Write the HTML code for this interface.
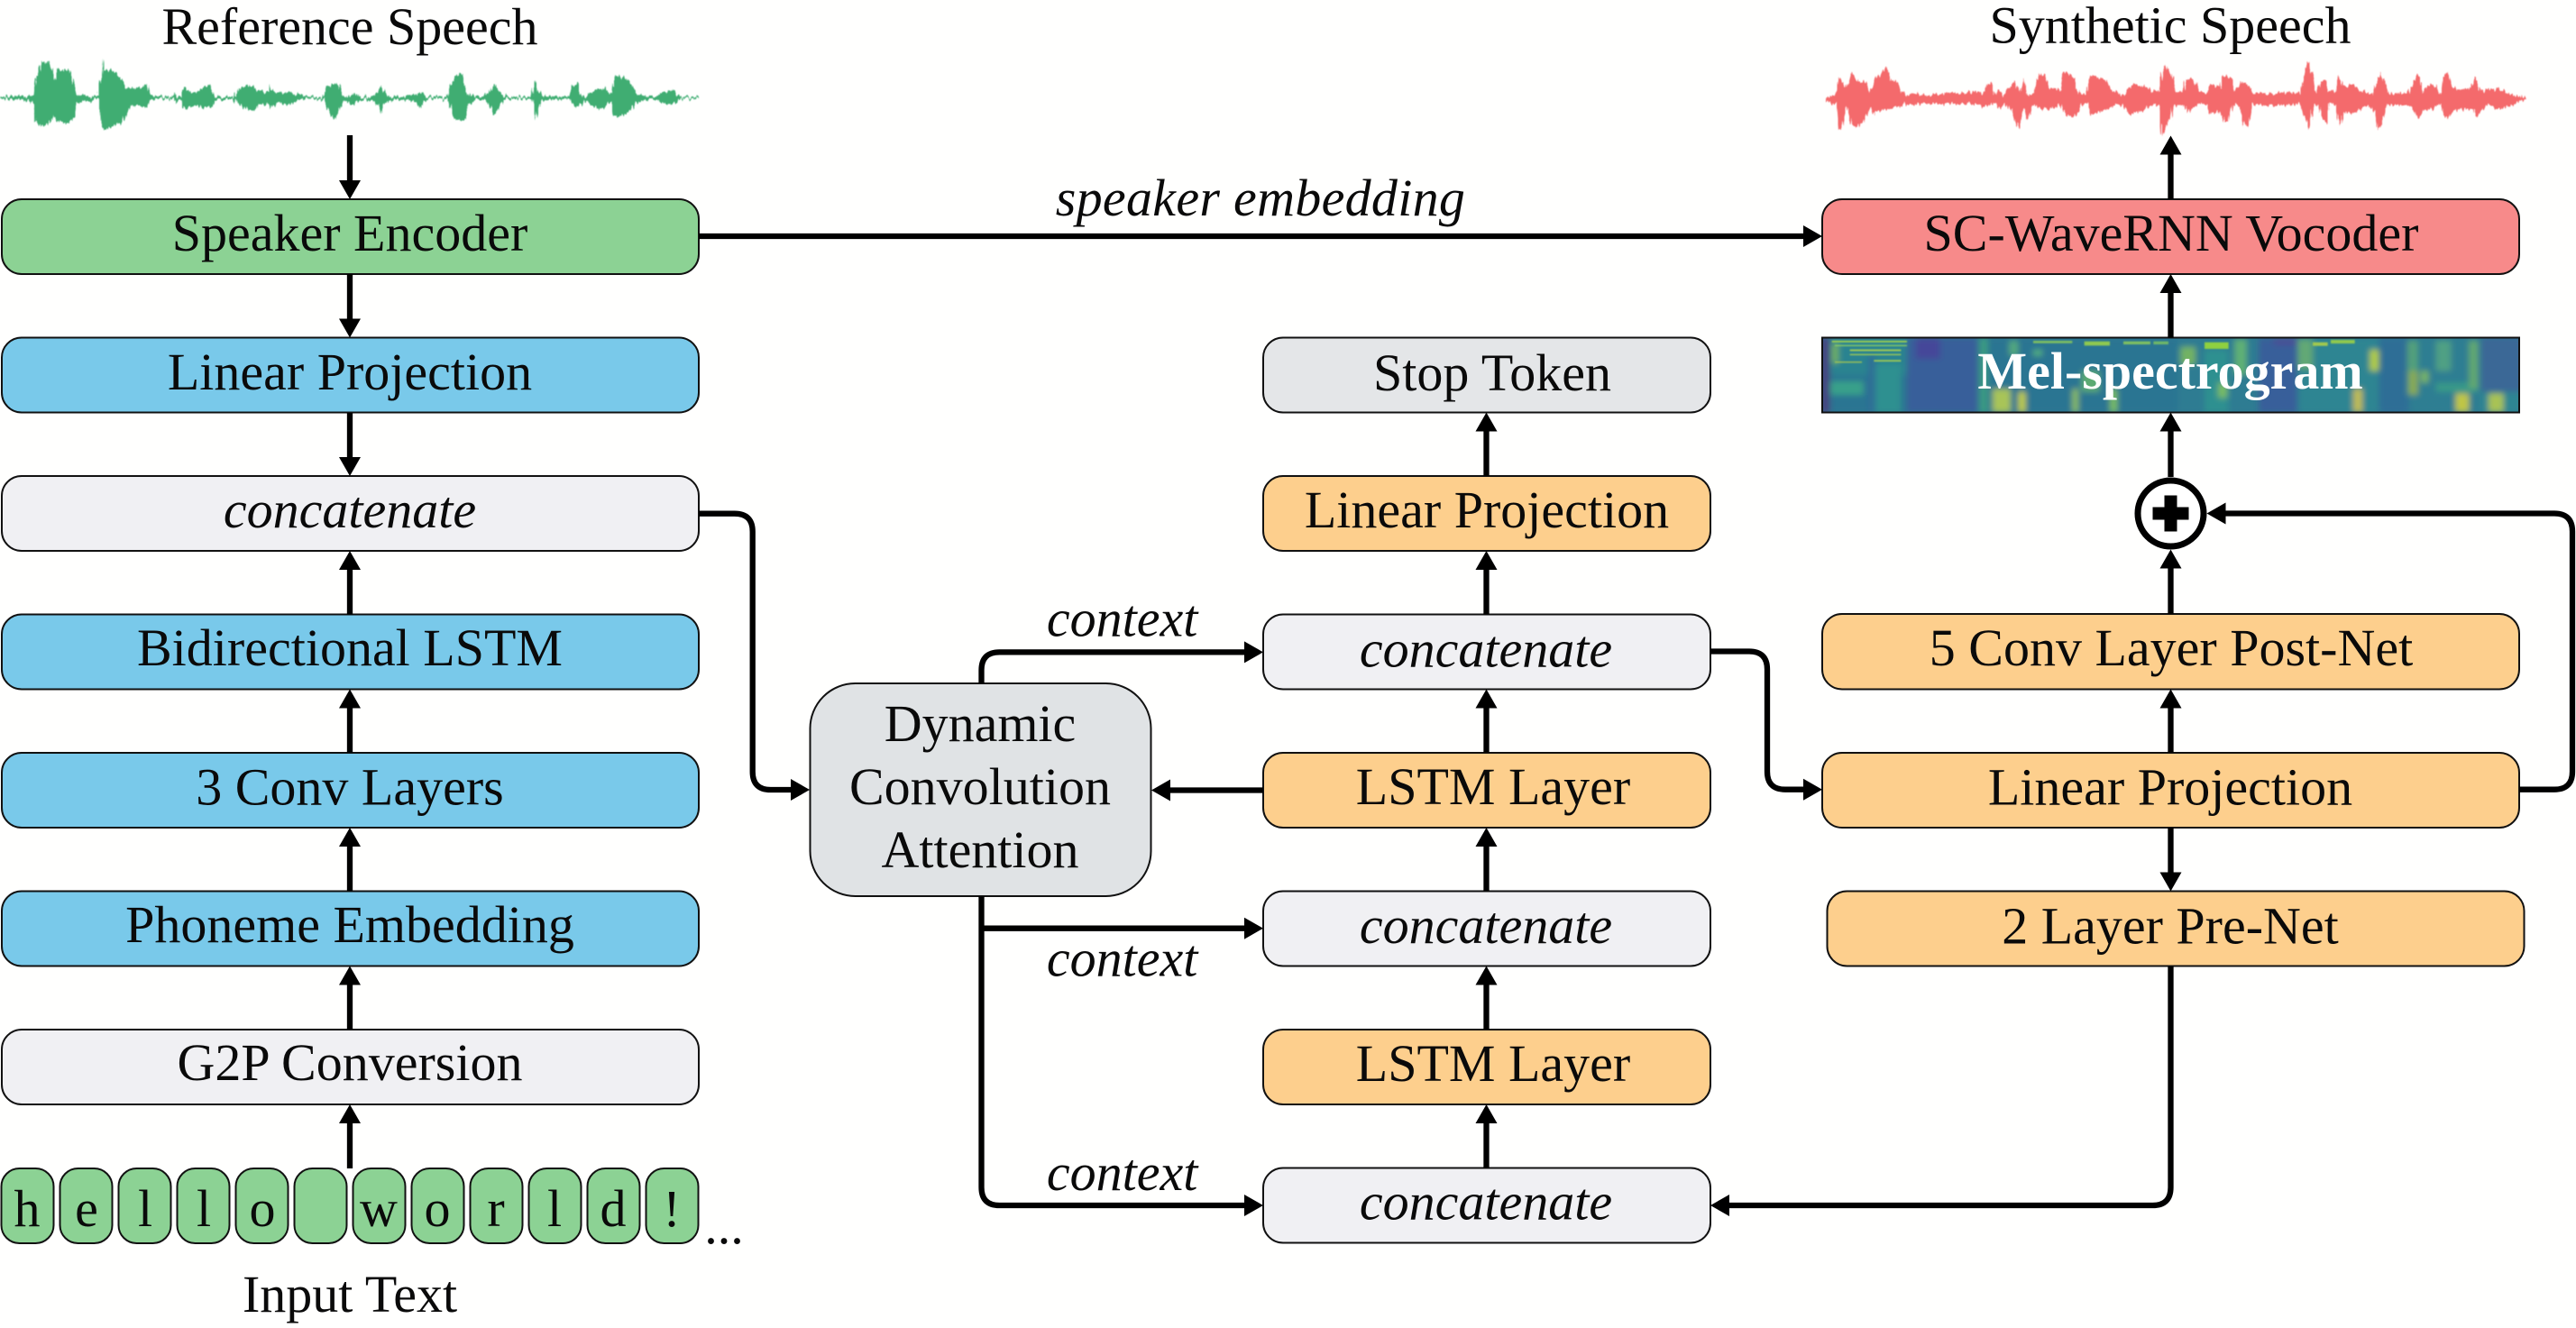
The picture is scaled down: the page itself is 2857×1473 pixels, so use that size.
<!DOCTYPE html>
<html><head><meta charset="utf-8"><style>
html,body{margin:0;padding:0;background:#fffffe;width:2857px;height:1473px;overflow:hidden}
svg{display:block}
text{font-family:"Liberation Serif","Times New Roman",serif;font-size:58px;fill:#0a0a0a;text-anchor:middle}
.i{font-style:italic}
.b{stroke:#111;stroke-width:2}
.l{fill:none;stroke:#000;stroke-width:6.3}
.a{fill:#000}
</style></head><body>
<svg width="2857" height="1473" viewBox="0 0 2857 1473" xmlns="http://www.w3.org/2000/svg">
<defs>
<filter id="bs" x="-2%" y="-8%" width="104%" height="116%"><feGaussianBlur stdDeviation="3.2"/></filter>
<filter id="ls" x="-2%" y="-8%" width="104%" height="116%"><feGaussianBlur stdDeviation="0.7"/></filter>
<filter id="ws" x="-1%" y="-15%" width="102%" height="130%">
<feTurbulence type="fractalNoise" baseFrequency="0.45 0.015" numOctaves="2" seed="4" result="n"/>
<feDisplacementMap in="SourceGraphic" in2="n" scale="9" xChannelSelector="A" yChannelSelector="R"/>
<feGaussianBlur stdDeviation="0.6"/>
</filter>
<clipPath id="mc"><rect x="2021" y="374.5" width="773" height="83"/></clipPath>
</defs>

<!-- waveforms -->
<g filter="url(#ws)">
<g transform="translate(0,55) scale(.33333)" fill="#3fad72">
<polygon points="0,159 30,156 100,154 108,150 114,95 125,85 135,42 142,36 150,45 160,38 170,60 180,100 187,105 190,65 205,68 218,70 230,65 240,90 250,130 258,148 300,155 325,158 332,100 340,95 345,32 350,70 360,68 385,78 410,110 420,130 440,128 470,128 487,113 498,150 520,156 575,158 580,148 590,155 600,158 603,140 618,125 630,140 655,140 680,125 697,120 712,155 780,158 790,128 825,118 845,125 860,138 890,140 897,112 905,130 925,145 945,145 965,140 985,148 1020,157 1075,158 1085,125 1100,118 1125,115 1135,150 1150,158 1165,150 1185,145 1200,160 1200,168 1185,178 1165,182 1150,168 1135,175 1125,210 1115,235 1100,215 1085,190 1075,165 1020,164 985,172 965,182 945,182 925,178 905,190 897,195 890,180 860,185 850,205 825,200 790,180 780,165 712,165 705,190 680,195 655,185 630,190 618,200 603,190 600,165 590,170 582,182 575,165 520,164 498,170 490,195 470,188 440,185 420,215 410,240 385,250 370,258 345,265 335,235 332,175 325,165 300,170 258,175 248,225 230,240 218,250 205,240 188,235 178,220 160,250 145,255 130,248 118,240 112,180 105,175 100,168 30,166 0,164"/>
</g>
<g transform="translate(390,55) scale(.33333)" fill="#3fad72">
<polygon points="0,150 8,140 20,155 45,158 70,155 90,135 97,118 105,140 125,158 170,156 215,150 228,138 240,150 250,158 315,158 328,115 345,95 362,75 372,105 390,150 410,158 440,155 460,140 475,112 490,140 510,158 595,158 608,100 620,135 640,155 725,158 738,125 750,112 760,140 775,158 800,140 840,125 860,150 868,148 872,95 885,88 910,98 935,125 945,148 985,155 1010,158 1030,145 1060,135 1080,148 1100,158 1157,158 1157,164 1100,164 1080,175 1060,185 1030,178 1010,165 985,165 945,178 925,205 890,225 870,220 865,175 840,190 820,200 795,178 775,168 760,185 745,195 730,170 725,165 640,168 625,175 612,235 600,175 595,165 510,165 490,190 478,218 460,190 445,168 410,165 390,185 378,235 360,235 340,232 325,185 315,165 250,165 238,175 228,192 215,175 170,165 125,170 108,185 98,212 90,190 70,170 45,165 20,165 8,188 0,172"/>
</g>
<g transform="translate(2015,60) scale(.33333)" fill="#f46b6c">
<polygon points="32,145 50,140 65,130 72,80 85,90 95,120 105,100 118,62 135,85 165,100 180,122 190,105 195,80 215,60 232,40 245,85 265,90 285,120 300,135 320,130 360,140 420,130 500,128 555,128 565,95 582,100 590,135 605,115 625,140 650,95 665,90 675,125 690,82 700,140 720,130 742,68 760,70 770,110 790,115 812,120 820,62 835,62 858,85 868,125 890,135 908,70 930,75 960,88 985,125 1000,125 1020,135 1050,100 1085,105 1115,125 1140,125 1148,65 1160,38 1180,70 1190,125 1200,125 1200,170 1180,180 1165,240 1148,270 1142,175 1120,170 1100,180 1065,195 1040,200 1020,170 1000,165 980,180 940,192 912,202 900,165 890,160 860,205 850,210 830,205 812,170 790,180 760,185 740,180 718,170 700,220 690,180 672,250 660,220 640,180 625,165 610,185 595,160 585,165 560,175 500,165 420,165 360,165 320,170 300,165 270,175 195,190 195,212 180,180 160,215 135,245 115,235 100,175 82,250 72,250 65,165 50,165 32,155"/>
</g>
<g transform="translate(2405,60) scale(.33333)" fill="#f46b6c">
<polygon points="0,65 12,110 20,128 50,125 58,85 85,80 100,125 130,130 138,105 175,108 182,72 205,80 218,125 235,105 250,90 270,105 285,130 350,130 400,125 440,130 455,60 465,25 480,70 488,125 505,90 525,85 535,125 560,125 565,72 580,105 620,105 640,125 680,130 692,95 710,55 722,100 735,130 800,128 825,75 835,70 845,130 860,105 880,100 905,135 912,75 930,60 940,105 970,120 1000,115 1020,75 1040,125 1090,115 1120,125 1170,140 1185,148 1185,152 1150,165 1100,185 1060,170 1040,190 1025,212 1012,180 985,185 950,185 930,215 915,200 905,165 880,185 850,185 830,215 815,180 790,168 730,168 720,200 708,240 695,255 685,190 665,168 640,185 610,200 585,190 570,240 558,170 535,165 525,230 510,210 495,165 485,170 468,245 450,205 440,165 380,170 300,170 280,165 265,250 250,225 235,170 210,170 200,225 185,225 170,190 140,200 130,170 100,165 62,195 52,170 15,170 8,215 0,220"/>
</g>
</g>

<!-- labels top -->
<text x="388" y="49">Reference Speech</text>
<text x="2407" y="47.5">Synthetic Speech</text>
<text x="1398" y="239" class="i" style="letter-spacing:.3px">speaker embedding</text>

<!-- left column -->
<rect class="b" x="2" y="221" width="773" height="83" rx="22" fill="#8cd294"/>
<rect class="b" x="2" y="374.5" width="773" height="83" rx="22" fill="#79c9ea"/>
<rect class="b" x="2" y="528" width="773" height="83" rx="22" fill="#f0f0f3"/>
<rect class="b" x="2" y="681.5" width="773" height="83" rx="22" fill="#79c9ea"/>
<rect class="b" x="2" y="835" width="773" height="83" rx="22" fill="#79c9ea"/>
<rect class="b" x="2" y="988.5" width="773" height="83" rx="22" fill="#79c9ea"/>
<rect class="b" x="2" y="1142" width="773" height="83" rx="22" fill="#f0f0f3"/>
<text x="388" y="278">Speaker Encoder</text>
<text x="388" y="432">Linear Projection</text>
<text x="388" y="585" class="i">concatenate</text>
<text x="388" y="738">Bidirectional LSTM</text>
<text x="388" y="892.5">3 Conv Layers</text>
<text x="388" y="1045">Phoneme Embedding</text>
<text x="388" y="1198">G2P Conversion</text>

<!-- hello world cells -->
<g fill="#8cd294">
<rect class="b" x="1.5" y="1296" width="58" height="83" rx="20"/>
<rect class="b" x="66.5" y="1296" width="58" height="83" rx="20"/>
<rect class="b" x="131.5" y="1296" width="58" height="83" rx="20"/>
<rect class="b" x="196.5" y="1296" width="58" height="83" rx="20"/>
<rect class="b" x="261.5" y="1296" width="58" height="83" rx="20"/>
<rect class="b" x="326.5" y="1296" width="58" height="83" rx="20"/>
<rect class="b" x="391.5" y="1296" width="58" height="83" rx="20"/>
<rect class="b" x="456.5" y="1296" width="58" height="83" rx="20"/>
<rect class="b" x="521.5" y="1296" width="58" height="83" rx="20"/>
<rect class="b" x="586.5" y="1296" width="58" height="83" rx="20"/>
<rect class="b" x="651.5" y="1296" width="58" height="83" rx="20"/>
<rect class="b" x="716.5" y="1296" width="58" height="83" rx="20"/>
</g>
<text x="30" y="1360">h</text><text x="96" y="1360">e</text><text x="161" y="1360">l</text><text x="226" y="1360">l</text><text x="291" y="1360">o</text>
<text x="420" y="1360">w</text><text x="485" y="1360">o</text><text x="550" y="1360">r</text><text x="615" y="1360">l</text><text x="680" y="1360">d</text><text x="745" y="1360">!</text>
<text x="803" y="1379">...</text>
<text x="388" y="1455">Input Text</text>

<!-- attention -->
<rect class="b" x="898.5" y="758" width="378" height="236" rx="50" fill="#e0e3e5"/>
<text x="1087" y="822">Dynamic</text>
<text x="1087" y="892">Convolution</text>
<text x="1087" y="962">Attention</text>
<text x="1244.6" y="705.5" class="i">context</text>
<text x="1244.6" y="1082.5" class="i">context</text>
<text x="1244.6" y="1320" class="i">context</text>

<!-- centre column -->
<rect class="b" x="1401" y="374.5" width="496" height="83" rx="22" fill="#e4e6e8"/>
<rect class="b" x="1401" y="528" width="496" height="83" rx="22" fill="#fdcf8d"/>
<rect class="b" x="1401" y="681.5" width="496" height="83" rx="22" fill="#f0f0f3"/>
<rect class="b" x="1401" y="835" width="496" height="83" rx="22" fill="#fdcf8d"/>
<rect class="b" x="1401" y="988.5" width="496" height="83" rx="22" fill="#f0f0f3"/>
<rect class="b" x="1401" y="1142" width="496" height="83" rx="22" fill="#fdcf8d"/>
<rect class="b" x="1401" y="1295.5" width="496" height="83" rx="22" fill="#f0f0f3"/>
<text x="1655" y="433">Stop Token</text>
<text x="1649" y="585">Linear Projection</text>
<text x="1648" y="739.5" class="i">concatenate</text>
<text x="1656" y="892">LSTM Layer</text>
<text x="1648" y="1046" class="i">concatenate</text>
<text x="1656" y="1199">LSTM Layer</text>
<text x="1648" y="1352.5" class="i">concatenate</text>

<!-- right column -->
<rect class="b" x="2021" y="221" width="773" height="83" rx="22" fill="#f78a8a"/>
<g clip-path="url(#mc)"><rect x="2021" y="374.5" width="773" height="83" fill="#2f7a92"/>
<g filter="url(#bs)">
<g transform="translate(2015,368) scale(.33333)">
<rect x="15" y="20" width="1185" height="250" fill="#2b7592"/>
<rect x="45" y="20" width="255" height="125" fill="#2c8390"/>
<rect x="45" y="165" width="110" height="45" fill="#37a08a"/>
<rect x="190" y="110" width="90" height="160" fill="#2d9090"/>
<rect x="170" y="80" width="25" height="190" fill="#2d6e96"/>
<rect x="300" y="20" width="235" height="250" fill="#395f9a"/>
<rect x="330" y="20" width="80" height="70" fill="#444799"/>
<rect x="15" y="20" width="28" height="250" fill="#46417f"/>
<rect x="50" y="40" width="22" height="65" fill="#6fb060"/>
<rect x="540" y="20" width="30" height="250" fill="#3a9a82"/>
<rect x="585" y="190" width="60" height="78" fill="#a8c458"/>
<rect x="670" y="200" width="25" height="68" fill="#c0cc44"/>
<rect x="640" y="30" width="30" height="50" fill="#52a87e"/>
<rect x="720" y="60" width="30" height="20" fill="#52b07e"/>
<rect x="850" y="190" width="20" height="78" fill="#88bc62"/>
<rect x="975" y="190" width="25" height="78" fill="#78bc62"/>
<rect x="880" y="130" width="60" height="70" fill="#5caa72"/>
</g>
<g transform="translate(2405,368) scale(.33333)">
<rect x="30" y="20" width="270" height="250" fill="#2d7c92"/>
<rect x="300" y="20" width="130" height="250" fill="#395f9a"/>
<rect x="350" y="20" width="90" height="25" fill="#4a4f96"/>
<rect x="40" y="50" width="50" height="60" fill="#72b264"/>
<rect x="120" y="60" width="80" height="210" fill="#2e9090"/>
<rect x="220" y="25" width="40" height="120" fill="#5fb074"/>
<rect x="165" y="170" width="30" height="50" fill="#78bc64"/>
<rect x="430" y="20" width="270" height="250" fill="#2d8592"/>
<rect x="430" y="25" width="50" height="100" fill="#62a874"/>
<rect x="615" y="190" width="30" height="78" fill="#c0bc52"/>
<rect x="670" y="60" width="40" height="70" fill="#b0cc44"/>
<rect x="700" y="20" width="100" height="250" fill="#2e6e96"/>
<rect x="800" y="20" width="240" height="250" fill="#2d7e92"/>
<rect x="795" y="30" width="35" height="180" fill="#52a07a"/>
<rect x="800" y="130" width="30" height="80" fill="#88aa54"/>
<rect x="840" y="130" width="25" height="40" fill="#78b464"/>
<rect x="890" y="30" width="50" height="100" fill="#50a084"/>
<rect x="890" y="170" width="140" height="30" fill="#389a88"/>
<rect x="1000" y="30" width="30" height="160" fill="#62a870"/>
<rect x="1040" y="20" width="135" height="180" fill="#3a6896"/>
<rect x="1040" y="200" width="135" height="70" fill="#2d8592"/>
<rect x="955" y="205" width="45" height="62" fill="#c0c644"/>
<rect x="1065" y="205" width="50" height="62" fill="#a8c254"/>
</g>
</g>
<g filter="url(#ls)">
<g transform="translate(2015,368) scale(.33333)">
<rect x="50" y="30" width="250" height="5" fill="#a8d84a"/>
<rect x="60" y="44" width="240" height="4" fill="#8fd060"/>
<rect x="110" y="59" width="170" height="5" fill="#b8d848"/>
<rect x="110" y="74" width="170" height="4" fill="#a8d050"/>
<rect x="190" y="94" width="90" height="5" fill="#a8d050"/>
<rect x="60" y="99" width="90" height="4" fill="#a8c850"/>
<rect x="720" y="30" width="130" height="8" fill="#7fc060"/>
<rect x="890" y="32" width="85" height="14" fill="#8ec850"/>
<rect x="1020" y="32" width="90" height="10" fill="#7fc060"/>
<rect x="1120" y="32" width="50" height="10" fill="#6fb868"/>
</g>
<g transform="translate(2405,368) scale(.33333)">
<rect x="120" y="35" width="80" height="22" fill="#8fd040"/>
<rect x="480" y="35" width="50" height="12" fill="#a0c850"/>
<rect x="540" y="27" width="80" height="12" fill="#90c850"/>
</g>
</g>
</g>
<rect x="2021" y="374.5" width="773" height="83" fill="none" stroke="#111" stroke-width="2"/>
<text x="2407" y="431" style="fill:#fff;font-weight:bold">Mel-spectrogram</text>
<rect class="b" x="2021" y="681" width="773" height="83.5" rx="22" fill="#fdcf8d"/>
<rect class="b" x="2021" y="835" width="773" height="83" rx="22" fill="#fdcf8d"/>
<rect class="b" x="2026.5" y="988.5" width="773" height="83" rx="22" fill="#fdcf8d"/>
<text x="2408" y="278">SC-WaveRNN Vocoder</text>
<text x="2408" y="738">5 Conv Layer Post-Net</text>
<text x="2407" y="892.5">Linear Projection</text>
<text x="2407" y="1046.5">2 Layer Pre-Net</text>

<!-- adder -->
<circle cx="2407.5" cy="569.5" r="36.5" fill="#fff" stroke="#000" stroke-width="7"/>
<rect x="2387.5" y="562.5" width="40" height="14" fill="#000"/>
<rect x="2400.5" y="549.5" width="14" height="40" fill="#000"/>

<!-- connectors: left column -->
<path class="l" d="M388,150V205M388,304V358M388,458V512M388,681.5V627M388,835V780M388,988.5V934M388,1142V1087M388,1296V1242"/>
<polygon class="a" points="388,221 376,200 400,200"/>
<polygon class="a" points="388,374.5 376,353.5 400,353.5"/>
<polygon class="a" points="388,528 376,507 400,507"/>
<polygon class="a" points="388,611 376,632 400,632"/>
<polygon class="a" points="388,764.5 376,785.5 400,785.5"/>
<polygon class="a" points="388,918 376,939 400,939"/>
<polygon class="a" points="388,1071.5 376,1092.5 400,1092.5"/>
<polygon class="a" points="388,1225 376,1246 400,1246"/>

<!-- speaker embedding -->
<path class="l" d="M775,262H2002"/>
<polygon class="a" points="2021,262 2000,250 2000,274"/>

<!-- concat to attention -->
<path class="l" d="M775,569.7H814.7Q834.7,569.7 834.7,589.7V856Q834.7,876 854.7,876H880"/>
<polygon class="a" points="898,876 877,864 877,888"/>

<!-- attention context -->
<path class="l" d="M1088.5,758V743.4Q1088.5,723.4 1108.5,723.4H1382"/>
<polygon class="a" points="1401,723.4 1380,711.4 1380,735.4"/>
<path class="l" d="M1088.5,994V1317Q1088.5,1337 1108.5,1337H1382"/>
<polygon class="a" points="1401,1337 1380,1325 1380,1349"/>
<path class="l" d="M1088.5,1029.7H1382"/>
<polygon class="a" points="1401,1029.7 1380,1017.7 1380,1041.7"/>
<path class="l" d="M1401,876.5H1294"/>
<polygon class="a" points="1277,876.5 1298,864.5 1298,888.5"/>

<!-- centre verticals -->
<path class="l" d="M1648.5,528V472M1648.5,681.5V626M1648.5,835V779M1648.5,988.5V932M1648.5,1142V1086M1648.5,1295.5V1240"/>
<polygon class="a" points="1648.5,457.5 1636.5,478.5 1660.5,478.5"/>
<polygon class="a" points="1648.5,611 1636.5,632 1660.5,632"/>
<polygon class="a" points="1648.5,764.5 1636.5,785.5 1660.5,785.5"/>
<polygon class="a" points="1648.5,918 1636.5,939 1660.5,939"/>
<polygon class="a" points="1648.5,1071.5 1636.5,1092.5 1660.5,1092.5"/>
<polygon class="a" points="1648.5,1225 1636.5,1246 1660.5,1246"/>

<!-- centre to right -->
<path class="l" d="M1897,722.5H1940Q1960,722.5 1960,742.5V855.7Q1960,875.7 1980,875.7H2002"/>
<polygon class="a" points="2021,875.7 2000,863.7 2000,887.7"/>

<!-- right verticals -->
<path class="l" d="M2407.5,221V166M2407.5,374.5V319M2407.5,529V472M2407.5,681V624M2407.5,835V779M2407.5,918V973"/>
<polygon class="a" points="2407.5,150.5 2395.5,171.5 2419.5,171.5"/>
<polygon class="a" points="2407.5,304 2395.5,325 2419.5,325"/>
<polygon class="a" points="2407.5,457.5 2395.5,478.5 2419.5,478.5"/>
<polygon class="a" points="2407.5,609.5 2395.5,630.5 2419.5,630.5"/>
<polygon class="a" points="2407.5,764.5 2395.5,785.5 2419.5,785.5"/>
<polygon class="a" points="2407.5,988.5 2395.5,967.5 2419.5,967.5"/>

<!-- residual loop -->
<path class="l" d="M2794,875.7H2833Q2853,875.7 2853,855.7V589.5Q2853,569.5 2833,569.5H2465"/>
<polygon class="a" points="2447.5,569.5 2468.5,557.5 2468.5,581.5"/>

<!-- prenet to bottom concat -->
<path class="l" d="M2407.5,1072V1317Q2407.5,1337 2387.5,1337H1915"/>
<polygon class="a" points="1897,1337 1918,1325 1918,1349"/>
</svg>
</body></html>
